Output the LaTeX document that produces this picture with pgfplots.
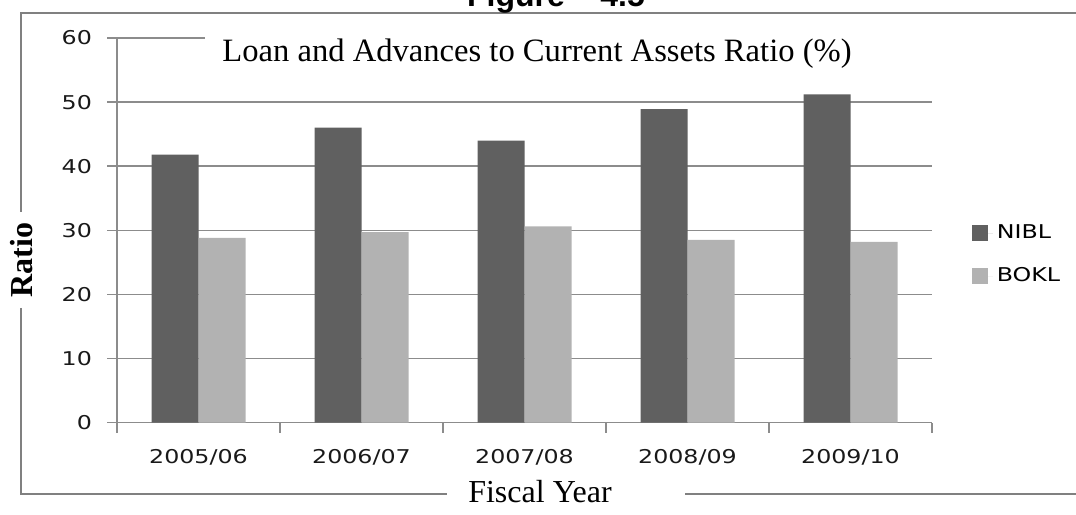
\documentclass[border=0pt]{standalone}
\usepackage{fontspec}
\usepackage{pgfplots}
\pgfplotsset{compat=1.18}
\setmainfont{Liberation Serif}
\newfontfamily\tickfont[FakeStretch=1.25]{DejaVu Sans}
\newfontfamily\figfont{Liberation Sans}

\definecolor{nibl}{HTML}{606060}
\definecolor{bokl}{HTML}{B2B2B2}
\definecolor{framegray}{HTML}{808080}
\definecolor{gridgray}{HTML}{8C8C8C}

\begin{document}
\begin{tikzpicture}
\useasboundingbox (0pt,0pt) rectangle (538pt,257pt);
% outer frame, broken by the axis titles
\draw[framegray, line width=1pt] (545pt,250.5pt) -- (10.5pt,250.5pt) -- (10.5pt,151pt);
\draw[framegray, line width=1pt] (10.5pt,103pt) -- (10.5pt,10pt) -- (223.5pt,10pt);
\draw[framegray, line width=1pt] (342.5pt,10pt) -- (545pt,10pt);
\begin{axis}[
    at={(99.25pt,45.75pt)}, anchor=origin,
    scale only axis, width=407.5pt, height=192.25pt,
    xmin=-0.5, xmax=4.5, ymin=0, ymax=60,
    ybar=0pt, bar width=23.5pt,
    axis x line*=bottom, axis y line*=left,
    axis line style={-, draw=gridgray, line width=0.75pt},
    tick style={draw=gridgray, line width=0.75pt},
    tick align=outside, major tick length=5pt,
    xtick={-0.5,0.5,...,4.5},
    xticklabels={2005/06,2006/07,2007/08,2008/09,2009/10,{}},
    x tick label style={xshift=40.75pt, yshift=-5pt},
    ytick={0,10,...,60},
    y tick label style={xshift=-4pt},
    ymajorgrids, grid style={draw=gridgray, line width=0.75pt},
    tick label style={font=\tickfont\fontsize{9.5}{11}\selectfont, text=black!90},
    /pgf/number format/assume math mode=true,
    legend style={draw=none, fill=none, at={(1.041,0.536)}, anchor=north west,
        font=\tickfont\fontsize{9.5}{11}\selectfont, row sep=9pt},
    legend cell align=left,
    legend image code/.code={\fill[#1] (0pt,-4pt) rectangle (8pt,4pt);
        \path (0pt,0pt) -- (10.5pt,0pt);},
]
\addplot[fill=nibl, draw=none] coordinates {(0,41.8) (1,46.0) (2,44.0) (3,48.9) (4,51.2)};
\addplot[fill=bokl, draw=none] coordinates {(0,28.8) (1,29.7) (2,30.6) (3,28.5) (4,28.2)};
\legend{NIBL, BOKL}
\end{axis}
% title box hides the 60 gridline
\fill[white] (102.5pt,232.5pt) rectangle (472.5pt,245pt);
\node[anchor=base, font=\fontsize{16.3}{18}\selectfont] at (268.5pt,226pt)
    {Loan and Advances to Current Assets Ratio (\%)};
\node[anchor=base, font=\figfont\bfseries\fontsize{16}{18}\selectfont] at (278pt,253.5pt)
    {Figure – 4.5};
\node[rotate=90, font=\bfseries\fontsize{16}{18}\selectfont] at (11pt,127pt) {Ratio};
\node[anchor=base, font=\fontsize{16}{18}\selectfont] at (270pt,5.5pt) {Fiscal Year};
\end{tikzpicture}
\end{document}
